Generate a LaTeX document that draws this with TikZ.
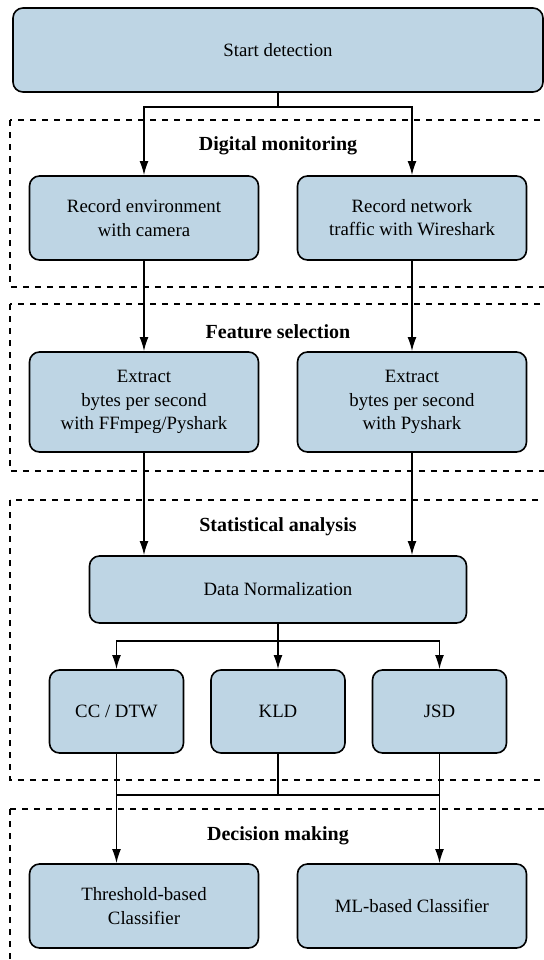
\documentclass[tikz,border=0pt]{standalone}
\usepackage{fontspec}
\setmainfont{Liberation Serif}
\usetikzlibrary{positioning,arrows.meta}

\definecolor{boxblue}{RGB}{190,213,228}

\tikzstyle{stepbox} = [rectangle, rounded corners=5pt, draw, line width=.8pt,
                       fill=boxblue, align=center, text centered,
                       minimum width=114.5pt, minimum height=42pt]
\tikzstyle{smallbox} = [stepbox, minimum width=67pt, minimum height=41.5pt]
\tikzstyle{heading} = [font=\bfseries]
\tikzstyle{frame} = [draw, dashed, line width=.6pt]
\tikzstyle{line} = [draw, -{Latex[length=7pt,width=4.4pt]}, line width=.75pt]

\begin{document}
\begin{tikzpicture}[font=\rmfamily\fontsize{9.4}{11.6}\selectfont]
    \useasboundingbox (-139pt,25pt) rectangle (133pt,-455pt);

    % dashed groups
    \path[frame] (-134pt,-35pt) rectangle (134pt,-118.5pt);
    \path[frame] (-134pt,-127pt) rectangle (134pt,-210.5pt);
    \path[frame] (-134pt,-225pt) rectangle (134pt,-365pt);
    \path[frame] (-134pt,-379.5pt) rectangle (134pt,-470pt);

    \node[stepbox, minimum width=265pt](Start){Start detection};

    \node[heading, below of=Start, node distance=48pt](DigitalHead){Digital monitoring};
    \coordinate[below of=Start, node distance=84pt](DummyRow1);
    \node[stepbox, left of=DummyRow1, node distance=67pt]
            (RecCamera){Record environment\\with camera};
    \node[stepbox, right of=DummyRow1, node distance=67pt]
            (RecNetwork){Record network\\traffic with Wireshark};

    \node[heading, below of=DummyRow1, node distance=57pt](FeatureHead){Feature selection};
    \coordinate[below of=DummyRow1, node distance=92pt](DummyRow2);
    \node[stepbox, minimum height=50pt, left of=DummyRow2, node distance=67pt]
            (ExtCamera){Extract\\bytes per second\\with FFmpeg/Pyshark};
    \node[stepbox, minimum height=50pt, right of=DummyRow2, node distance=67pt]
            (ExtNetwork){Extract\\bytes per second\\with Pyshark};

    \node[heading, below of=DummyRow2, node distance=62.5pt](StatHead){Statistical analysis};
    \node[stepbox, minimum width=188.5pt, minimum height=33.5pt,
          below of=DummyRow2, node distance=93.75pt](Norm){Data Normalization};
    \node[smallbox, below of=Norm, node distance=61pt](KLD){KLD};
    \node[smallbox, left of=KLD, node distance=80.75pt](CCDTW){CC / DTW};
    \node[smallbox, right of=KLD, node distance=80.75pt](JSD){JSD};

    \node[heading, below of=KLD, node distance=62.25pt](DecisionHead){Decision making};
    \coordinate[below of=KLD, node distance=97.25pt](DummyRow4);
    \node[stepbox, left of=DummyRow4, node distance=67pt]
            (Threshold){Threshold-based\\Classifier};
    \node[stepbox, right of=DummyRow4, node distance=67pt]
            (MLClass){ML-based Classifier};

    \path[line](Start.south) -- ++(0,-7pt) -| (RecCamera.north);
    \path[line](Start.south) -- ++(0,-7pt) -| (RecNetwork.north);
    \path[line](RecCamera.south) -- (ExtCamera.north);
    \path[line](RecNetwork.south) -- (ExtNetwork.north);
    \path[line](ExtCamera.south) -- (ExtCamera.south |- Norm.north);
    \path[line](ExtNetwork.south) -- (ExtNetwork.south |- Norm.north);

    \path[line](Norm.south) -- ++(0,-8.5pt) -| (CCDTW.north);
    \path[line](Norm.south) -- ++(0,-8.5pt) -| (JSD.north);
    \path[line](Norm.south) -- (KLD.north);

    \draw[line width=.75pt](KLD.south) -- ++(0,-20.5pt) coordinate(Merge);
    \draw[line width=.75pt](Merge -| CCDTW.south) -- (Merge -| JSD.south);
    \path[line](CCDTW.south) -- (CCDTW.south |- Threshold.north);
    \path[line](JSD.south) -- (JSD.south |- MLClass.north);
\end{tikzpicture}
\end{document}
